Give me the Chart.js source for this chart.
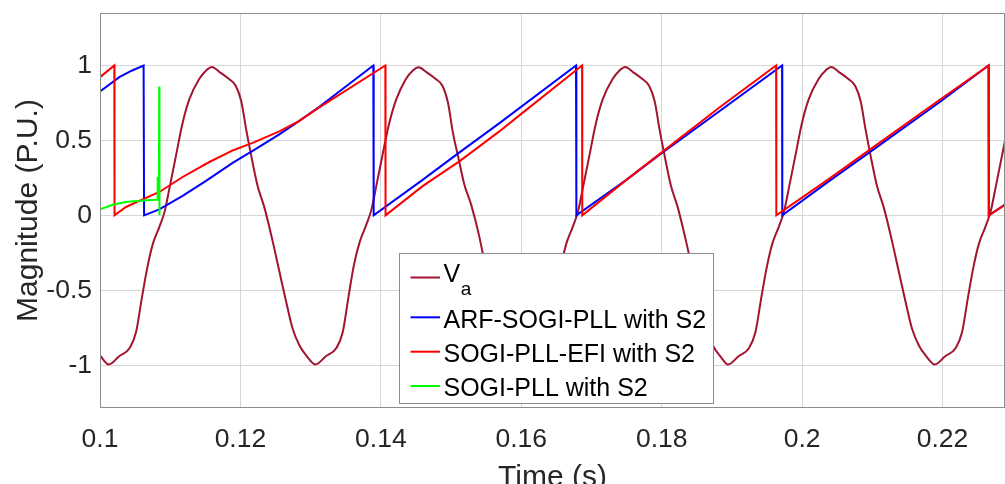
<!DOCTYPE html>
<html><head><meta charset="utf-8">
<style>
html,body{margin:0;padding:0;overflow:hidden;background:#fff;}
#wrap{width:1005px;height:500px;position:relative;}
</style>
<script src="https://cdn.jsdelivr.net/npm/chart.js@4.4.0/dist/chart.umd.min.js"></script>
</head><body>
<div id="wrap"><canvas id="c" width="1005" height="500"></canvas></div>
<script>
// ---------- data ----------
const seriesLabels = ['V', 'ARF-SOGI-PLL with S2', 'SOGI-PLL-EFI with S2', 'SOGI-PLL with S2'];
const vaSubscript = 'a';

const xTicks = [0.1, 0.12, 0.14, 0.16, 0.18, 0.2, 0.22];
const xTickLabels = ['0.1', '0.12', '0.14', '0.16', '0.18', '0.2', '0.22'];
const yTicks = [-1, -0.5, 0, 0.5, 1];
const yTickLabels = ['-1', '-0.5', '0', '0.5', '1'];

const vaTime = [
  0.1000,
  0.10123, 0.10273, 0.10423, 0.10513, 0.10593, 0.10673, 0.10753, 0.10843, 0.10923, 0.10993,
  0.11083, 0.11173, 0.11273, 0.11413, 0.11513, 0.11593, 0.11703, 0.11833, 0.11933, 0.12013,
  0.12083, 0.12153, 0.12243, 0.12343, 0.12453, 0.12553, 0.12653, 0.12743, 0.12843, 0.12953,
  0.13067, 0.13217, 0.13367, 0.13457, 0.13537, 0.13617, 0.13697, 0.13787, 0.13867, 0.13937,
  0.14027, 0.14117, 0.14217, 0.14357, 0.14457, 0.14537, 0.14647, 0.14777, 0.14877, 0.14957,
  0.15027, 0.15097, 0.15187, 0.15287, 0.15397, 0.15497, 0.15597, 0.15687, 0.15787, 0.15897,
  0.16011, 0.16161, 0.16311, 0.16401, 0.16481, 0.16561, 0.16641, 0.16731, 0.16811, 0.16881,
  0.16971, 0.17061, 0.17161, 0.17301, 0.17401, 0.17481, 0.17591, 0.17721, 0.17821, 0.17901,
  0.17971, 0.18041, 0.18131, 0.18231, 0.18341, 0.18441, 0.18541, 0.18631, 0.18731, 0.18841,
  0.18945, 0.19095, 0.19245, 0.19335, 0.19415, 0.19495, 0.19575, 0.19665, 0.19745, 0.19815,
  0.19905, 0.19995, 0.20095, 0.20235, 0.20335, 0.20415, 0.20525, 0.20655, 0.20755, 0.20835,
  0.20905, 0.20975, 0.21065, 0.21165, 0.21275, 0.21375, 0.21475, 0.21565, 0.21665, 0.21775,
  0.21888, 0.22038, 0.22188, 0.22278, 0.22358, 0.22438, 0.22518, 0.22608, 0.22688, 0.22758,
  0.22848, 0.22938
];
const vaValue = [
  -0.935,
  -0.995, -0.94, -0.885, -0.78, -0.56, -0.35, -0.19, -0.08, 0.03, 0.19,
  0.40, 0.61, 0.775, 0.91, 0.967, 0.99, 0.956, 0.911, 0.865, 0.76,
  0.57, 0.40, 0.20, 0.05, -0.16, -0.37, -0.58, -0.755, -0.87, -0.944,
  -0.995, -0.94, -0.885, -0.78, -0.55, -0.33, -0.18, -0.07, 0.04, 0.20,
  0.41, 0.61, 0.77, 0.91, 0.967, 0.988, 0.956, 0.911, 0.865, 0.75,
  0.55, 0.40, 0.21, 0.07, -0.13, -0.36, -0.58, -0.755, -0.87, -0.944,
  -0.995, -0.94, -0.885, -0.78, -0.56, -0.35, -0.19, -0.08, 0.03, 0.19,
  0.40, 0.61, 0.775, 0.91, 0.967, 0.99, 0.956, 0.911, 0.865, 0.76,
  0.57, 0.40, 0.20, 0.05, -0.16, -0.37, -0.58, -0.755, -0.87, -0.944,
  -0.995, -0.94, -0.885, -0.78, -0.56, -0.35, -0.19, -0.08, 0.03, 0.19,
  0.40, 0.61, 0.775, 0.91, 0.967, 0.99, 0.956, 0.911, 0.865, 0.76,
  0.57, 0.40, 0.20, 0.05, -0.16, -0.37, -0.58, -0.755, -0.87, -0.944,
  -0.995, -0.94, -0.885, -0.78, -0.56, -0.35, -0.19, -0.08, 0.03, 0.19,
  0.40, 0.61
];

const arfTime = [
  0.1000, 0.10275, 0.1045, 0.10621,
  0.10628, 0.10845, 0.11177, 0.1151, 0.11889, 0.12174, 0.12554, 0.12839, 0.13124, 0.13893,
  0.13898, 0.1459, 0.1512, 0.1569, 0.1678,
  0.16785, 0.17493, 0.18014, 0.18822, 0.19715,
  0.19718, 0.20389, 0.20959, 0.21956, 0.22655,
  0.22658, 0.2295
];
const arfValue = [
  0.827, 0.922, 0.965, 1.0,
  0, 0.04, 0.13, 0.23, 0.35, 0.43, 0.54, 0.63, 0.725, 1.0,
  0, 0.235, 0.42, 0.615, 1.0,
  0, 0.235, 0.42, 0.695, 1.0,
  0, 0.23, 0.42, 0.755, 1.0,
  0, 0.09
];

const efiTime = [
  0.1000, 0.10204,
  0.10207, 0.1037, 0.10607, 0.10845, 0.11177, 0.11557, 0.11889, 0.12174, 0.12554, 0.12839, 0.13124, 0.14064,
  0.14067, 0.14595, 0.15118, 0.15688, 0.15973, 0.16866,
  0.16869, 0.17493, 0.18014, 0.18822, 0.1963,
  0.19633, 0.20389, 0.21, 0.21956, 0.22658,
  0.22661, 0.2295
];
const efiValue = [
  0.922, 1.0,
  0, 0.056, 0.107, 0.156, 0.256, 0.356, 0.433, 0.484, 0.56, 0.63, 0.72, 1.0,
  0, 0.195, 0.36, 0.56, 0.667, 1.0,
  0, 0.235, 0.425, 0.72, 1.0,
  0, 0.245, 0.45, 0.77, 1.0,
  0, 0.09
];

const sogiTime = [0.1000, 0.1018, 0.1037, 0.1061, 0.1080, 0.10818, 0.1082, 0.10823, 0.10838, 0.10843, 0.10847];
const sogiValue = [0.04, 0.071, 0.089, 0.100, 0.104, 0.105, 0.256, 0.105, 0.105, 0.86, 0.0];

// ---------- styling ----------
const FONT = '"Liberation Sans", Arial, Helvetica, sans-serif';
const TEXT = '#262626';
const GRID = '#d6d6d6';
const FRAME = '#8c8c8c';
const colors = ['#A2142F', '#0000FF', '#FF0000', '#00FF00'];

const pts = (ts, vs) => ts.map((t, i) => ({x: t, y: vs[i]}));

const frameLegendPlugin = {
  id: 'frameLegend',
  afterDatasetsDraw(chart) {
    const ctx = chart.ctx;
    const a = chart.chartArea;
    ctx.save();
    // legend box (inside the axes, drawn over the curves)
    const bx = a.left + 299.5, by = a.top + 240.5, bw = 314, bh = 150;
    ctx.fillStyle = '#ffffff';
    ctx.fillRect(bx, by, bw, bh);
    ctx.strokeStyle = FRAME;
    ctx.lineWidth = 1;
    ctx.strokeRect(bx, by, bw, bh);
    const lineY = [264.5, 304.3, 338.7, 373];
    const baseY = [269.3, 314.7, 348.7, 382.7];
    chart.data.datasets.forEach((ds, i) => {
      const ly = a.top + lineY[i];
      ctx.strokeStyle = ds.borderColor;
      ctx.lineWidth = 2;
      ctx.beginPath();
      ctx.moveTo(bx + 11, ly);
      ctx.lineTo(bx + 40.5, ly);
      ctx.stroke();
      ctx.fillStyle = '#000';
      ctx.font = '25px ' + FONT;
      ctx.textBaseline = 'alphabetic';
      ctx.textAlign = 'left';
      const tx = bx + 44;
      ctx.fillText(ds.label, tx, a.top + baseY[i]);
      if (i === 0) {
        const w = ctx.measureText(ds.label).width;
        ctx.font = '19px ' + FONT;
        ctx.fillText(vaSubscript, tx + w + 0.5, a.top + 282);
      }
    });
    ctx.restore();
  },
  afterDraw(chart) {
    const ctx = chart.ctx;
    const a = chart.chartArea;
    ctx.save();
    ctx.strokeStyle = FRAME;
    ctx.lineWidth = 1;
    ctx.strokeRect(Math.round(a.left) + 0.5, Math.round(a.top) + 0.5,
                   Math.round(a.right) - Math.round(a.left) - 1, Math.round(a.bottom) - Math.round(a.top) - 1);
    ctx.restore();
  }
};

const lineDs = (label, ts, vs, color, order, smooth) => ({
  label, data: pts(ts, vs), borderColor: color, backgroundColor: color,
  borderWidth: 2, pointRadius: 0, fill: false, order,
  tension: 0, cubicInterpolationMode: smooth ? 'monotone' : 'default'
});

new Chart(document.getElementById('c'), {
  type: 'line',
  data: {
    datasets: [
      lineDs(seriesLabels[0], vaTime, vaValue, colors[0], 4, true),
      lineDs(seriesLabels[1], arfTime, arfValue, colors[1], 3, false),
      lineDs(seriesLabels[2], efiTime, efiValue, colors[2], 2, false),
      lineDs(seriesLabels[3], sogiTime, sogiValue, colors[3], 1, false)
    ]
  },
  options: {
    responsive: false,
    animation: false,
    devicePixelRatio: 1,
    layout: {padding: {top: 13, left: 0, right: 0, bottom: 0}},
    plugins: {legend: {display: false}, tooltip: {enabled: false}, title: {display: false}},
    scales: {
      x: {
        type: 'linear', min: 0.1, max: 0.2289,
        afterBuildTicks: s => { s.ticks = xTicks.map(v => ({value: v})); },
        afterFit: s => { s.height = 92; s.paddingLeft = 0; s.paddingRight = 0; },
        ticks: {
          font: {family: FONT, size: 26.5}, color: TEXT, padding: 16, maxRotation: 0,
          callback: v => xTickLabels[xTicks.findIndex(t => Math.abs(t - v) < 1e-9)]
        },
        grid: {color: GRID, drawTicks: false, lineWidth: 1},
        border: {display: false},
        title: {display: true, text: 'Time (s)', color: TEXT, font: {family: FONT, size: 30}, padding: {top: 0, bottom: 4}}
      },
      y: {
        type: 'linear', min: -1.285, max: 1.35,
        afterBuildTicks: s => { s.ticks = yTicks.map(v => ({value: v})); },
        afterFit: s => { s.width = 100; s.paddingTop = 0; s.paddingBottom = 0; },
        ticks: {
          font: {family: FONT, size: 26.5}, color: TEXT, padding: 8,
          callback: v => yTickLabels[yTicks.findIndex(t => Math.abs(t - v) < 1e-9)]
        },
        grid: {color: GRID, drawTicks: false, lineWidth: 1},
        border: {display: false},
        title: {display: true, text: 'Magnitude (P.U.)', color: TEXT, font: {family: FONT, size: 30}, padding: {top: 11, bottom: 0}}
      }
    }
  },
  plugins: [frameLegendPlugin]
});
</script>
</body></html>
